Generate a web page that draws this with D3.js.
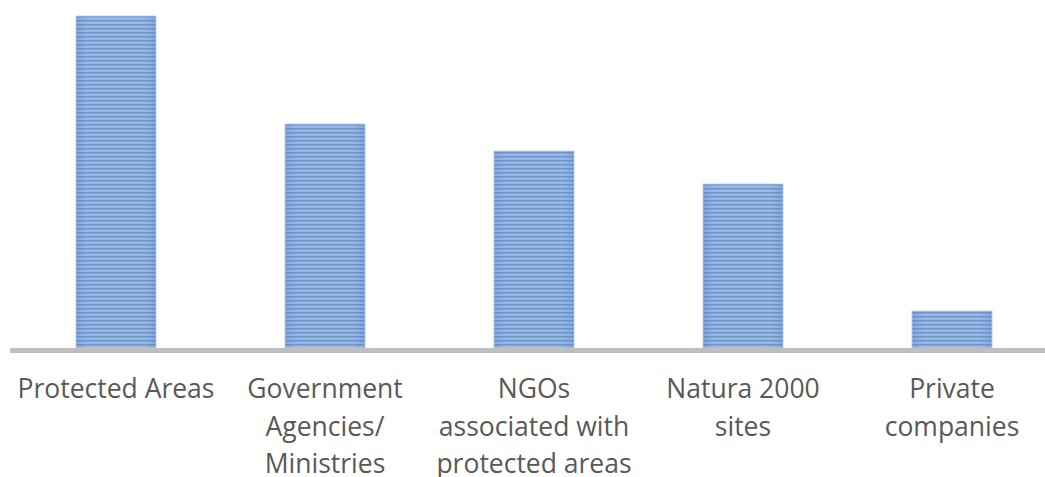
<!DOCTYPE html>
<html><head><meta charset="utf-8">
<script src="https://cdn.jsdelivr.net/npm/d3@7"></script>
<style>html,body{margin:0;padding:0;background:#fff;}svg{display:block;}</style>
</head><body>
<script>
const categories = ["Protected Areas", "Government Agencies/ Ministries", "NGOs associated with protected areas", "Natura 2000 sites", "Private companies"];
const labelLines = [["Protected Areas"], ["Government", "Agencies/", "Ministries"], ["NGOs", "associated with", "protected areas"], ["Natura 2000", "sites"], ["Private", "companies"]];
const values = [33.2, 22.4, 19.7, 16.4, 3.7];

const W = 1045, H = 477;
const svg = d3.select("body").append("svg").attr("width", W).attr("height", H);
const defs = svg.append("defs");
const pat = defs.append("pattern").attr("id", "stripes").attr("patternUnits", "userSpaceOnUse")
  .attr("width", 8).attr("height", 4).attr("y", 16);
pat.append("rect").attr("width", 8).attr("height", 4).attr("fill", "#9fbce3");
pat.append("rect").attr("y", 0).attr("width", 8).attr("height", 1.5).attr("fill", "#7098cf");
const grad = defs.append("linearGradient").attr("id", "shade").attr("x1", "0").attr("x2", "1").attr("y1", "0").attr("y2", "0");
grad.append("stop").attr("offset", "0").attr("stop-color", "#3f6fb5").attr("stop-opacity", 0.25);
grad.append("stop").attr("offset", "0.15").attr("stop-color", "#3f6fb5").attr("stop-opacity", 0.05);
grad.append("stop").attr("offset", "0.85").attr("stop-color", "#3f6fb5").attr("stop-opacity", 0.05);
grad.append("stop").attr("offset", "1").attr("stop-color", "#3f6fb5").attr("stop-opacity", 0.25);

const baseY = 348;
const x = d3.scaleBand().domain(categories).range([11.5, 1056.5]).paddingInner(0.617).paddingOuter(0.3085);
const y = d3.scaleLinear().domain([0, 33.2]).range([baseY, 16]);

const g = svg.append("g");
g.selectAll("rect.bar").data(values).join("rect").attr("class", "bar")
  .attr("x", (d, i) => x(categories[i])).attr("width", x.bandwidth())
  .attr("y", d => y(d)).attr("height", d => baseY - y(d))
  .attr("fill", "url(#stripes)");
g.selectAll("rect.shade").data(values).join("rect").attr("class", "shade")
  .attr("x", (d, i) => x(categories[i])).attr("width", x.bandwidth())
  .attr("y", d => y(d)).attr("height", d => baseY - y(d))
  .attr("fill", "url(#shade)").attr("stroke", "#b5cbea").attr("stroke-width", 0.8);

// axis line
const axis = svg.append("g").attr("transform", `translate(0,${baseY + 2.5})`)
  .call(d3.axisBottom(x).tickSize(0).tickFormat(""));
axis.select(".domain").attr("stroke", "#bfbfbf").attr("stroke-width", 5).attr("d", "M10,0H1045");

// labels
const lab = svg.append("g");
labelLines.forEach((lines, i) => {
  const cx = x(categories[i]) + x.bandwidth() / 2;
  const t = lab.append("text").attr("x", cx).attr("y", 398).attr("text-anchor", "middle")
    .attr("font-family", "'Open Sans', sans-serif").attr("font-size", 26.5).attr("fill", "#595959");
  lines.forEach((l, j) => t.append("tspan").attr("x", cx).attr("dy", j === 0 ? 0 : 37.5).text(l));
});
</script>
</body></html>
